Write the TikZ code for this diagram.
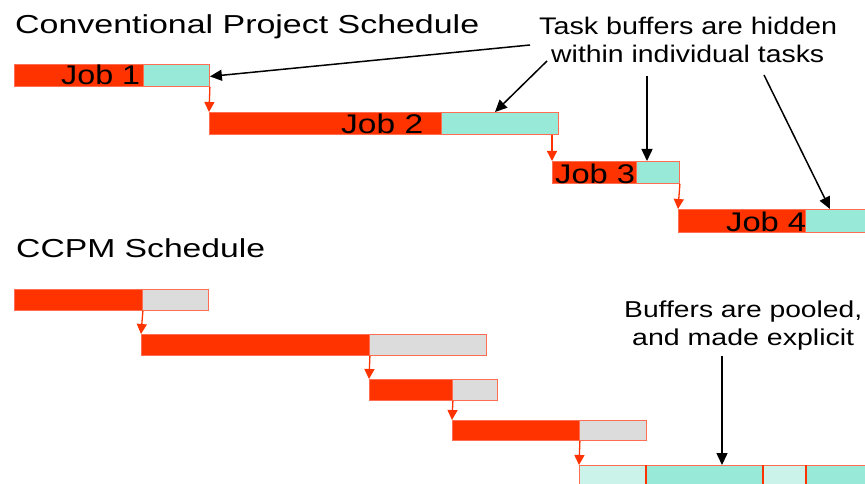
\documentclass[tikz,border=0pt]{standalone}
\usepackage{fontspec}
\setmainfont{Liberation Sans}
\usetikzlibrary{arrows.meta}
\definecolor{taskred}{HTML}{FF3300}
\definecolor{edgered}{HTML}{FF6E50}
\definecolor{buffteal}{HTML}{99E9D9}
\definecolor{paleteal}{HTML}{CCF3E9}
\definecolor{buffgray}{HTML}{DCDCDC}
% text set at a given size and stretched to a given width
\newcommand{\fitlabel}[3]{\resizebox{#1pt}{\height}{\fontsize{#2}{#2}\selectfont #3}}
\tikzset{
  seg/.style={rectangle, inner sep=0pt, anchor=north west, draw=edgered, line width=0.9pt},
  task/.style={seg, fill=taskred},
  hidbuf/.style={seg, fill=buffteal},
  graybuf/.style={seg, fill=buffgray},
  poolpale/.style={seg, fill=paleteal},
  poolteal/.style={seg, fill=buffteal},
  txt/.style={inner sep=0pt, anchor=base west, text=black},
  link/.style={draw=taskred, line width=1.3pt, -{Triangle[width=10pt,length=10pt]}},
  callout/.style={draw=black, line width=1.5pt, -{Triangle[width=11pt,length=12pt]}},
  divider/.style={draw=taskred, line width=2pt}
}
\begin{document}
\begin{tikzpicture}[x=1pt, y=-1pt]
\clip (0,0) rectangle (865,484);
\fill[white] (0,0) rectangle (865,484);

% ---- conventional schedule: buffers inside each task ----
\node[txt] (title1) at (15,34) {\fitlabel{464}{26}{Conventional Project Schedule}};

\node[task,   minimum width=129pt, minimum height=22pt] (t1) at (14,64) {};
\node[hidbuf, minimum width=66pt,  minimum height=22pt] (b1) at (143,64) {};
\node[task,   minimum width=232pt, minimum height=22pt] (t2) at (209,112) {};
\node[hidbuf, minimum width=117pt, minimum height=22pt] (b2) at (441,112) {};
\node[task,   minimum width=84pt,  minimum height=22pt] (t3) at (552,161) {};
\node[hidbuf, minimum width=43pt,  minimum height=22pt] (b3) at (636,161) {};
\node[task,   minimum width=127pt, minimum height=23pt] (t4) at (678,209) {};
\node[hidbuf, minimum width=66pt,  minimum height=23pt] (b4) at (805,209) {};

\node[txt] (j1) at (61,85)  {\fitlabel{79}{27}{Job 1}};
\node[txt] (j2) at (341,134) {\fitlabel{82}{27}{Job 2}};
\node[txt] (j3) at (555,183) {\fitlabel{80}{27}{Job 3}};
\node[txt] (j4) at (726,231) {\fitlabel{80}{27}{Job 4}};

\draw[link] (b1.south east) -- (t2.north west);
\draw[link] (t3.north west |- b2.south) -- (t3.north west);
\draw[link] (b3.south east) -- (t4.north west);

\node[txt] (hid1) at (539,35) {\fitlabel{298}{24}{Task buffers are hidden}};
\node[txt] (hid2) at (551,63) {\fitlabel{273}{24}{within individual tasks}};

\coordinate (s1) at (530,45);
\coordinate (s2) at (547,61);
\coordinate (s3) at (647,76);
\coordinate (s4) at (764,75);
\draw[callout] (s1) -- ([yshift=-1pt]b1.east);
\draw[callout] (s2) -- ([xshift=54pt]b2.north west);
\draw[callout] (s3) -- (s3 |- b3.north);
\draw[callout] (s4) -- ([xshift=25pt]b4.north west);

% ---- CCPM schedule: buffers pooled at the end ----
\node[txt] (title2) at (16,257) {\fitlabel{249}{26}{CCPM Schedule}};

\node[task,    minimum width=128pt, minimum height=21pt] (c1) at (14,289) {};
\node[graybuf, minimum width=66pt,  minimum height=21pt] (g1) at (142,289) {};
\node[task,    minimum width=228pt, minimum height=21pt] (c2) at (141,334) {};
\node[graybuf, minimum width=117pt, minimum height=21pt] (g2) at (369,334) {};
\node[task,    minimum width=83pt,  minimum height=21pt] (c3) at (369,379) {};
\node[graybuf, minimum width=45pt,  minimum height=21pt] (g3) at (452,379) {};
\node[task,    minimum width=127pt, minimum height=20pt] (c4) at (452,420) {};
\node[graybuf, minimum width=67pt,  minimum height=20pt] (g4) at (579,420) {};

\node[poolpale, minimum width=67pt,  minimum height=22pt] (p1) at (579,465) {};
\node[poolteal, minimum width=117pt, minimum height=22pt] (p2) at (646,465) {};
\node[poolpale, minimum width=43pt,  minimum height=22pt] (p3) at (763,465) {};
\node[poolteal, minimum width=66pt,  minimum height=22pt] (p4) at (806,465) {};
\draw[divider] (p2.north west) -- (p2.south west);
\draw[divider] (p3.north west) -- (p3.south west);
\draw[divider] (p4.north west) -- (p4.south west);

\draw[link] (c1.south east) -- (c2.north west);
\draw[link] (c2.south east) -- (c3.north west);
\draw[link] (c3.south east) -- (c4.north west);
\draw[link] (c4.south east) -- (p1.north west);

\node[txt] (pool1) at (624,317) {\fitlabel{238}{23}{Buffers are pooled,}};
\node[txt] (pool2) at (632,345) {\fitlabel{222}{23}{and made explicit}};

\coordinate (s5) at (722,356);
\draw[callout] (s5) -- (s5 |- p2.north);
\end{tikzpicture}
\end{document}
